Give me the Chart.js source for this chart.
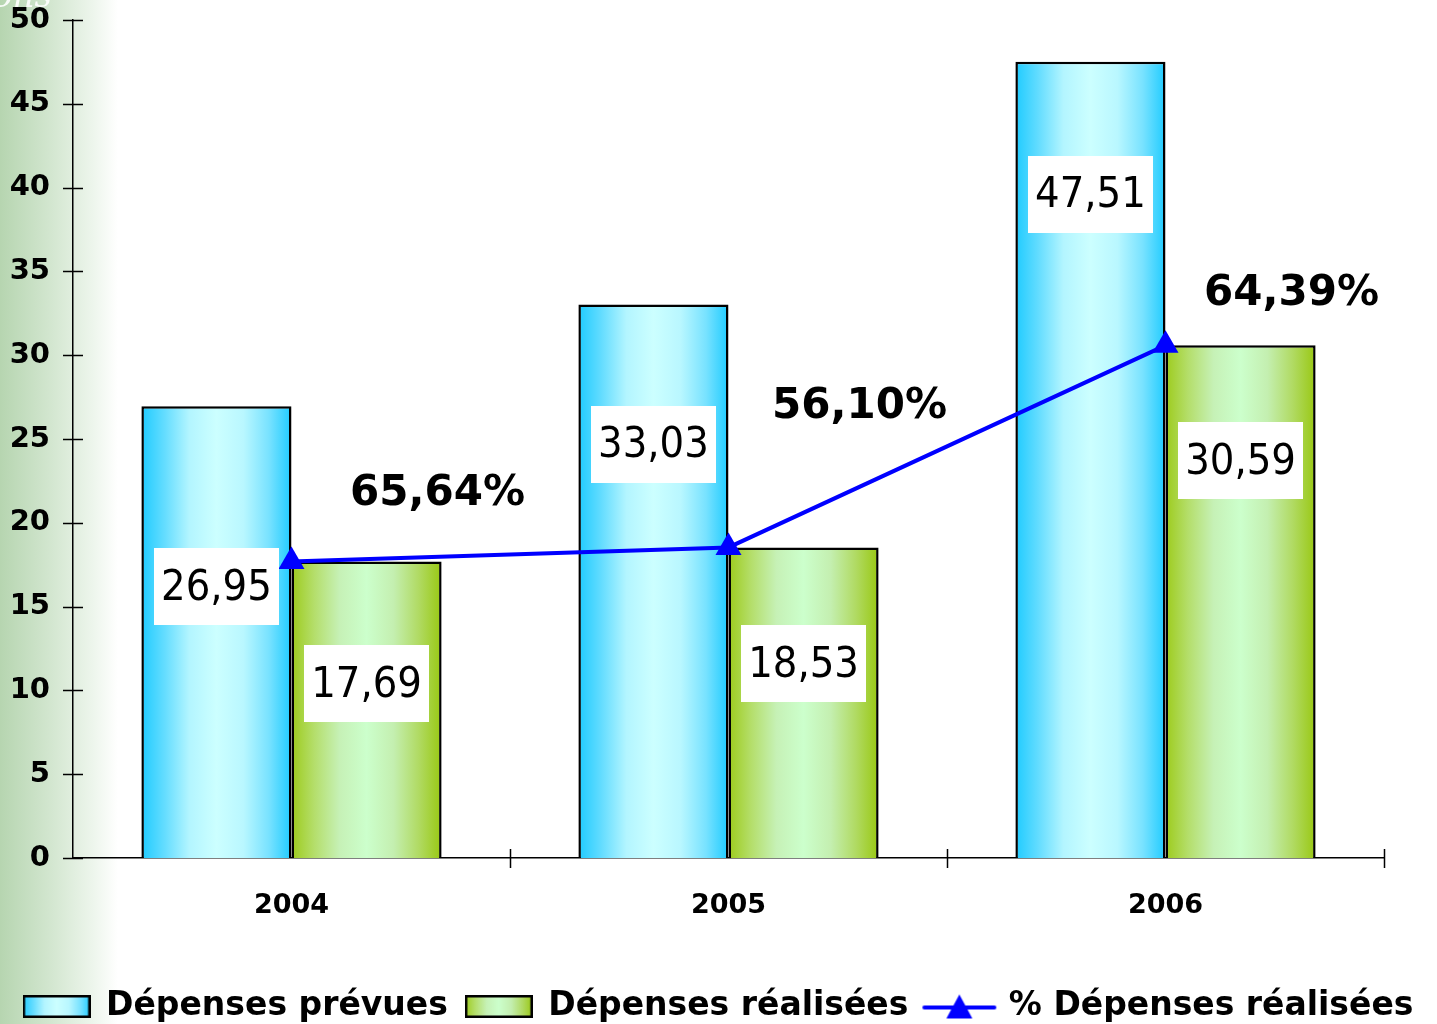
<!DOCTYPE html>
<html><head><meta charset="utf-8">
<script src="https://cdn.jsdelivr.net/npm/chart.js@4"></script>
<style>html,body{margin:0;padding:0;background:#fff}canvas{display:block}</style>
</head><body>
<canvas id="c" width="1437" height="1024"></canvas>
<script>
// ---------- DATA ----------
const categories = ['2004', '2005', '2006'];
const depensesPrevues = [26.95, 33.03, 47.51];
const depensesRealisees = [17.69, 18.53, 30.59];
const pourcentageRealise = [65.64, 56.10, 64.39];
const seriesNames = ['Dépenses prévues', 'Dépenses réalisées', '% Dépenses réalisées'];
const yMin = 0, yMax = 50, yStep = 5;

// ---------- STYLE ----------
const CAT_PCT = 0.687;
const BLUE_STOPS = [[0,'#1fcbff'],[0.15,'#62dcff'],[0.32,'#b3f5ff'],[0.5,'#ccffff'],[0.68,'#b9f7ff'],[0.85,'#78e2ff'],[1,'#1fcbff']];
const GREEN_STOPS = [[0,'#9dcb1c'],[0.15,'#b4de6a'],[0.32,'#c6f1b6'],[0.5,'#ccffcc'],[0.68,'#c4efb0'],[0.85,'#b0da62'],[1,'#99c812']];
const BOLD = '"DejaVu Sans", Verdana, sans-serif';
const VALUE_FONT = '"DejaVu Sans Condensed", "DejaVu Sans", sans-serif';
// vertical level (axis units) of value boxes, manual placement as in the original
const labelLevelPrevues = [16.2, 24.7, 39.6];
const labelLevelRealisees = [10.4, 11.6, 23.7];
// pixel offsets of the percentage labels from their line point
const pctOffsets = [[146,-67],[131,-140],[126,-51]];

const fmt = v => v.toFixed(2).replace('.', ',');

function makeGradient(chart, left, width, stops) {
  const g = chart.ctx.createLinearGradient(left, 0, left + width, 0);
  stops.forEach(([o, c]) => g.addColorStop(o, c));
  return g;
}
function barBg(stops, isLeft) {
  return (ctx) => {
    const chart = ctx.chart, xs = chart.scales.x;
    if (!xs || ctx.type !== 'data' || !xs.width) return stops[3][1];
    const catW = xs.width / categories.length;
    const barW = catW * CAT_PCT / 2;
    const c = xs.getPixelForValue(ctx.dataIndex);
    const left = isLeft ? c - barW : c;
    return makeGradient(chart, left, barW, stops);
  };
}

function legendBoxImage(stops) {
  const cv = document.createElement('canvas');
  cv.width = 68; cv.height = 23;
  const c = cv.getContext('2d');
  const g = c.createLinearGradient(0, 0, 68, 0);
  stops.forEach(([o, col]) => g.addColorStop(o, col));
  c.fillStyle = g; c.fillRect(1, 1, 66, 21);
  c.strokeStyle = '#000'; c.lineWidth = 2.5; c.strokeRect(1.25, 1.25, 65.5, 20.5);
  return cv;
}
function legendLineImage() {
  const cv = document.createElement('canvas');
  cv.width = 76; cv.height = 30;
  const c = cv.getContext('2d');
  c.strokeStyle = '#0000ff'; c.lineWidth = 4; c.lineCap = 'round';
  c.beginPath(); c.moveTo(3, 16); c.lineTo(73, 16); c.stroke();
  c.fillStyle = '#0000ff';
  c.beginPath(); c.moveTo(38, 3); c.lineTo(51, 27); c.lineTo(25, 27); c.closePath(); c.fill();
  return cv;
}
const legendImgs = [legendBoxImage(BLUE_STOPS), legendBoxImage(GREEN_STOPS), legendLineImage()];

const bgPlugin = {
  id: 'bg',
  beforeDraw(chart) {
    const c = chart.ctx;
    c.save();
    c.fillStyle = '#fff'; c.fillRect(0, 0, chart.width, chart.height);
    const g = c.createLinearGradient(0, 0, 118, 0);
    g.addColorStop(0, '#b6d5b0'); g.addColorStop(0.45, '#d4e7d1'); g.addColorStop(0.8, '#eef6ed'); g.addColorStop(1, '#ffffff');
    c.fillStyle = g; c.fillRect(0, 0, 118, chart.height);
    c.font = 'italic 34px "DejaVu Serif", serif';
    c.fillStyle = 'rgba(255,255,255,0.9)';
    c.textAlign = 'right'; c.textBaseline = 'alphabetic';
    c.fillText('ons', 52, 7);
    c.restore();
  }
};

const ticksPlugin = {
  id: 'crossTicks',
  afterDraw(chart) {
    const c = chart.ctx, ys = chart.scales.y, xs = chart.scales.x;
    c.save();
    c.strokeStyle = '#000'; c.lineWidth = 1.5;
    c.beginPath();
    ys.ticks.forEach(t => {
      const y = Math.round(ys.getPixelForValue(t.value)) + 0.5;
      c.moveTo(ys.right - 10, y); c.lineTo(ys.right + 10, y);
    });
    const catW = xs.width / categories.length;
    for (let i = 1; i <= categories.length; i++) {
      const x = Math.round(xs.left + catW * i) + 0.5;
      c.moveTo(x, xs.top - 9); c.lineTo(x, xs.top + 10);
    }
    c.stroke();
    c.restore();
  }
};

const labelsPlugin = {
  id: 'valueLabels',
  afterDatasetsDraw(chart) {
    const c = chart.ctx, ys = chart.scales.y;
    c.save();
    c.textAlign = 'center'; c.textBaseline = 'middle';
    const drawBox = (x, y, text) => {
      c.font = '43px ' + VALUE_FONT;
      const w = c.measureText(text).width + 14, h = 77;
      c.fillStyle = '#fff';
      c.fillRect(Math.round(x - w / 2), Math.round(y - h / 2), Math.round(w), h);
      c.fillStyle = '#000';
      c.fillText(text, x, y + 2);
    };
    [[0, depensesPrevues, labelLevelPrevues], [1, depensesRealisees, labelLevelRealisees]].forEach(([di, vals, lv]) => {
      const meta = chart.getDatasetMeta(di);
      meta.data.forEach((bar, i) => {
        drawBox(bar.x, ys.getPixelForValue(lv[i]), fmt(vals[i]));
      });
    });
    const lineMeta = chart.getDatasetMeta(2);
    c.font = 'bold 42px ' + BOLD;
    c.fillStyle = '#000';
    lineMeta.data.forEach((pt, i) => {
      c.fillText(fmt(pourcentageRealise[i]) + '%', pt.x + pctOffsets[i][0], pt.y + pctOffsets[i][1]);
    });
    c.restore();
  }
};

const PAD_BOTTOM = -9;
new Chart(document.getElementById('c'), {
  data: {
    labels: categories,
    datasets: [
      { type: 'bar', label: seriesNames[0], data: depensesPrevues, order: 1,
        backgroundColor: barBg(BLUE_STOPS, true), borderColor: '#000', borderWidth: 2.5,
        barPercentage: 1, categoryPercentage: CAT_PCT },
      { type: 'bar', label: seriesNames[1], data: depensesRealisees, order: 2,
        backgroundColor: barBg(GREEN_STOPS, false), borderColor: '#000', borderWidth: 2.5,
        barPercentage: 1, categoryPercentage: CAT_PCT },
      { type: 'line', label: seriesNames[2], data: depensesRealisees, order: 0,
        borderColor: '#0000ff', borderWidth: 4, pointStyle: 'triangle', pointRadius: 15,
        pointBackgroundColor: '#0000ff', pointBorderColor: '#0000ff', pointBorderWidth: 0, tension: 0 }
    ]
  },
  options: {
    responsive: false,
    devicePixelRatio: 1,
    animation: false,
    layout: { padding: { top: 0, right: 0, left: 0, bottom: PAD_BOTTOM } },
    plugins: {
      tooltip: { enabled: false },
      legend: {
        position: 'bottom',
        labels: {
          usePointStyle: true,
          pointStyleWidth: 66,
          padding: 18,
          color: '#000',
          font: { family: BOLD, size: 33, weight: 'bold' },
          generateLabels: () => seriesNames.map((n, i) => ({
            text: n, pointStyle: legendImgs[i], fillStyle: 'rgba(0,0,0,0)',
            strokeStyle: 'rgba(0,0,0,0)', lineWidth: 0, datasetIndex: i, hidden: false
          }))
        }
      }
    },
    scales: {
      x: {
        type: 'category',
        offset: true,
        grid: { display: false, offset: true },
        border: { display: true, color: '#000', width: 1.5 },
        ticks: { color: '#000', font: { family: BOLD, size: 27, weight: 'bold' }, padding: 24, maxRotation: 0 },
        afterFit: s => { s.height = s.chart.height - PAD_BOTTOM - (s.chart.legend ? s.chart.legend.height : 60) - 858; }
      },
      y: {
        min: yMin, max: yMax,
        grid: { display: false, drawTicks: false },
        border: { display: true, color: '#000', width: 1.5 },
        ticks: { stepSize: yStep, color: '#000', font: { family: BOLD, size: 29, weight: 'bold' }, padding: 23 },
        afterFit: s => { s.width = 73; s.paddingTop = 20; s.paddingBottom = 0; }
      },
      spacer: {
        type: 'linear', position: 'right', display: true,
        grid: { display: false, drawTicks: false },
        border: { display: false },
        ticks: { display: false },
        afterFit: s => { s.width = 53; s.paddingTop = 0; s.paddingBottom = 0; }
      }
    }
  },
  plugins: [bgPlugin, ticksPlugin, labelsPlugin]
});
</script>
</body></html>
